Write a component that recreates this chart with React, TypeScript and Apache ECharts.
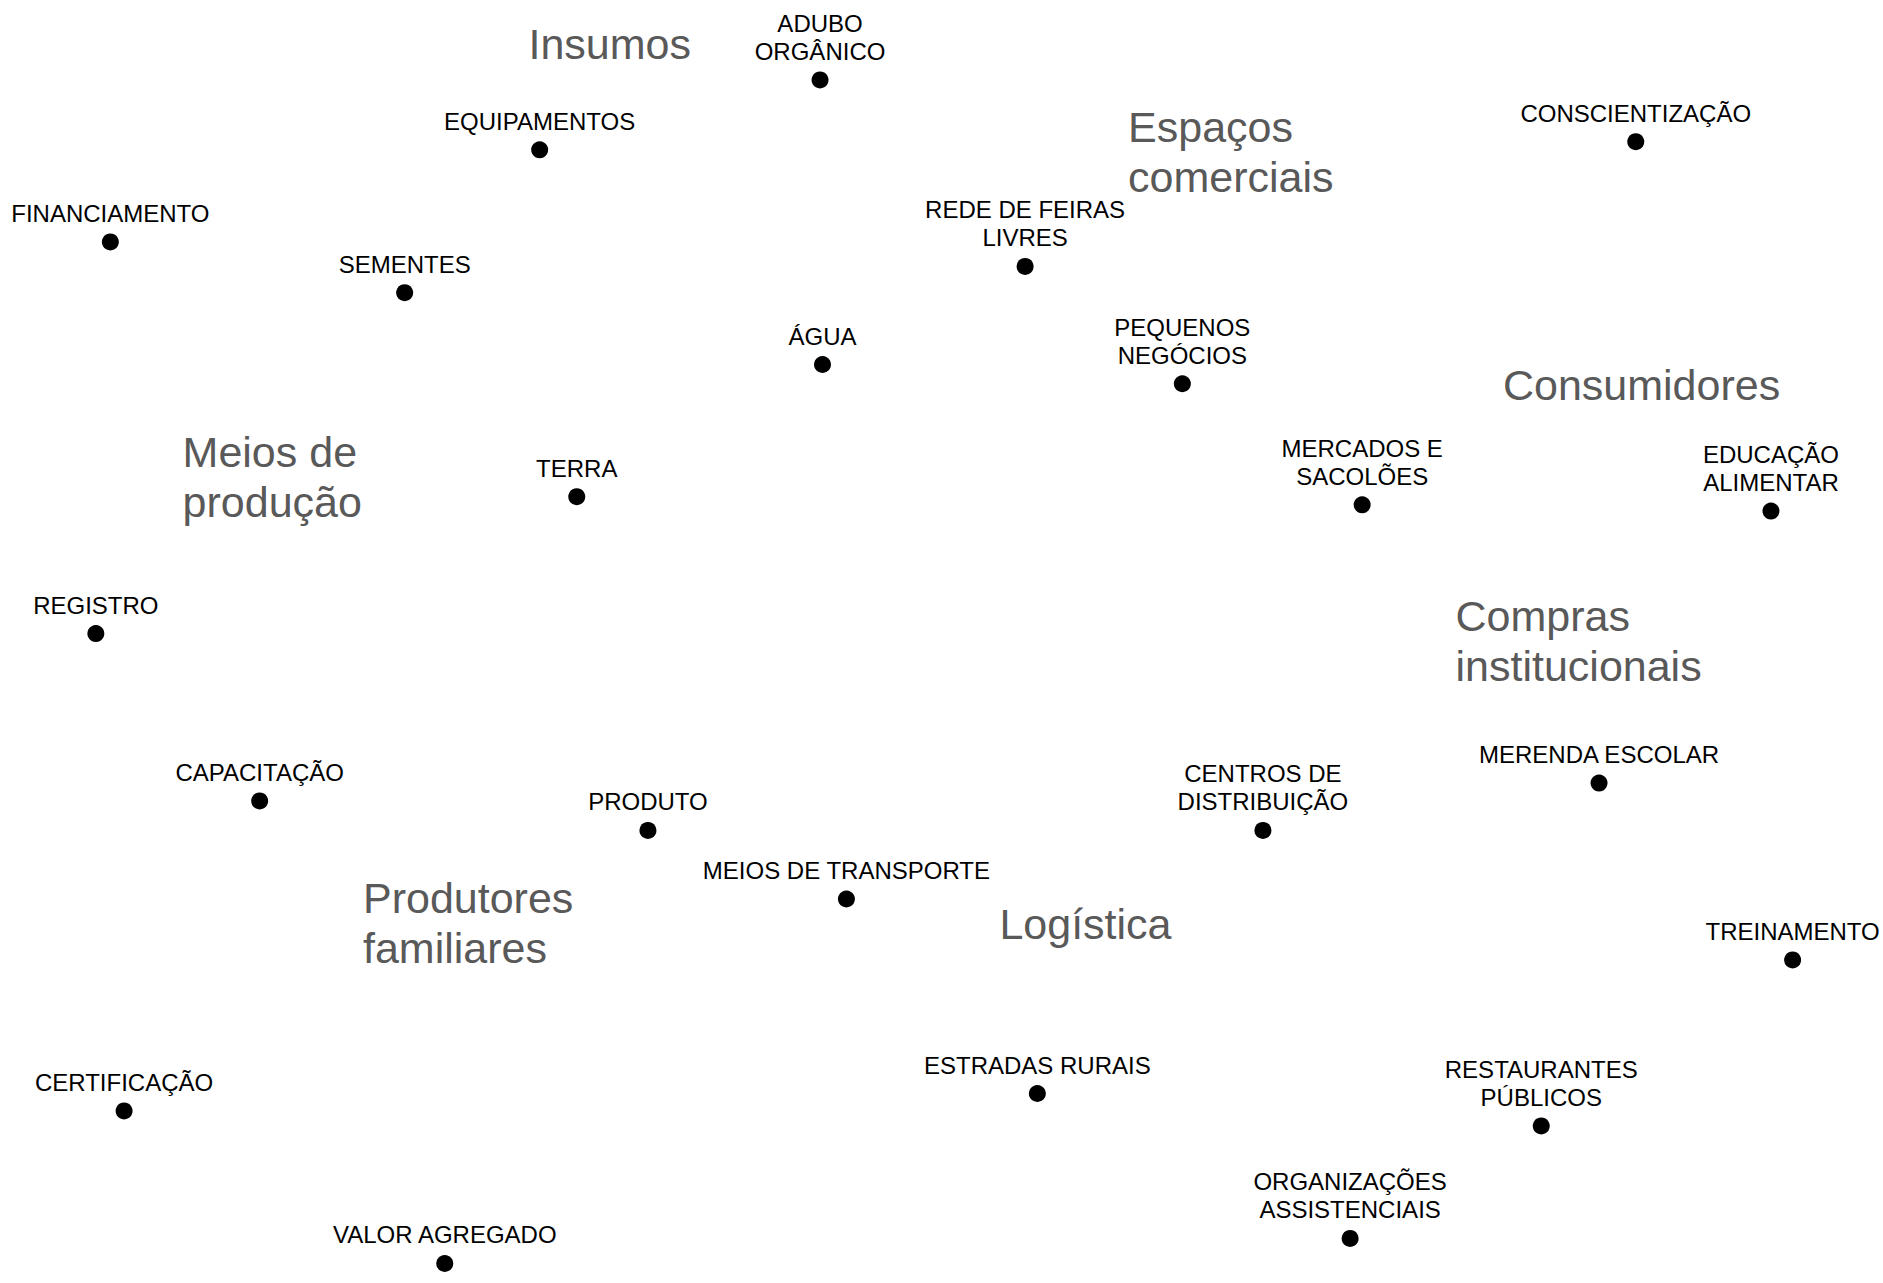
import React, { useEffect, useRef } from "react";
import * as echarts from "echarts";

// Concept map: items (black dots with labels) and group titles (gray text)
const itemNames = [
  "ADUBO\nORGÂNICO",
  "EQUIPAMENTOS",
  "FINANCIAMENTO",
  "SEMENTES",
  "ÁGUA",
  "TERRA",
  "REGISTRO",
  "CAPACITAÇÃO",
  "PRODUTO",
  "MEIOS DE TRANSPORTE",
  "CERTIFICAÇÃO",
  "VALOR AGREGADO",
  "REDE DE FEIRAS\nLIVRES",
  "PEQUENOS\nNEGÓCIOS",
  "MERCADOS E\nSACOLÕES",
  "CONSCIENTIZAÇÃO",
  "EDUCAÇÃO\nALIMENTAR",
  "CENTROS DE\nDISTRIBUIÇÃO",
  "MERENDA ESCOLAR",
  "TREINAMENTO",
  "ESTRADAS RURAIS",
  "RESTAURANTES\nPÚBLICOS",
  "ORGANIZAÇÕES\nASSISTENCIAIS",
];

const itemX = [
  43.55, 28.66, 5.86, 21.49, 43.68, 30.63, 5.09, 13.79, 34.41, 44.95, 6.59, 23.62,
  54.44, 62.79, 72.34, 86.87, 94.05, 67.07, 84.92, 95.2, 55.09, 81.85, 71.7,
];

const itemY = [
  93.77, 88.32, 81.14, 77.19, 71.59, 61.29, 50.62, 37.57, 35.27, 29.93, 13.41, 1.52,
  79.23, 70.09, 60.65, 88.96, 60.17, 35.27, 38.97, 25.18, 14.77, 12.24, 3.47,
];

const groupNames = [
  "Insumos",
  "Espaços\ncomerciais",
  "Consumidores",
  "Meios de\nprodução",
  "Compras\ninstitucionais",
  "Produtores\nfamiliares",
  "Logística",
];

const groupX = [28.04, 59.88, 79.79, 9.67, 77.27, 19.25, 53.05];
const groupY = [96.55, 88.17, 69.97, 62.8, 50.02, 28.06, 27.96];

const FONT = "'Liberation Sans', Arial, Helvetica, sans-serif";

export default function App() {
  const ref = useRef<HTMLDivElement>(null);

  useEffect(() => {
    document.body.style.margin = "0";
    if (!ref.current) return;
    const chart = echarts.init(ref.current, undefined, { renderer: "svg" });

    const itemData = itemNames.map((n, i) => ({ name: n, value: [itemX[i], itemY[i]] }));
    const groupData = groupNames.map((n, i) => ({ name: n, value: [groupX[i], groupY[i]] }));

    chart.setOption({
      animation: false,
      backgroundColor: "#ffffff",
      grid: { left: 0, right: 0, top: 0, bottom: 0 },
      xAxis: { type: "value", min: 0, max: 100, show: false },
      yAxis: { type: "value", min: 0, max: 100, show: false },
      series: [
        {
          type: "scatter",
          silent: true,
          symbol: "circle",
          symbolSize: 17,
          itemStyle: { color: "#000000", opacity: 1 },
          data: itemData,
          label: {
            show: true,
            position: "top",
            distance: 6,
            formatter: (p: any) => p.name,
            color: "#000000",
            fontFamily: FONT,
            fontSize: 24,
            lineHeight: 28,
            align: "center",
          },
        },
        {
          type: "scatter",
          silent: true,
          symbol: "circle",
          symbolSize: 1,
          itemStyle: { color: "rgba(255,255,255,0)", opacity: 1 },
          data: groupData,
          label: {
            show: true,
            position: "right",
            distance: 0,
            formatter: (p: any) => p.name,
            color: "#595959",
            fontFamily: FONT,
            fontSize: 43,
            lineHeight: 50,
            align: "left",
            verticalAlign: "middle",
          },
        },
      ],
    });

    return () => chart.dispose();
  }, []);

  return <div ref={ref} style={{ width: 1883, height: 1283 }} />;
}
